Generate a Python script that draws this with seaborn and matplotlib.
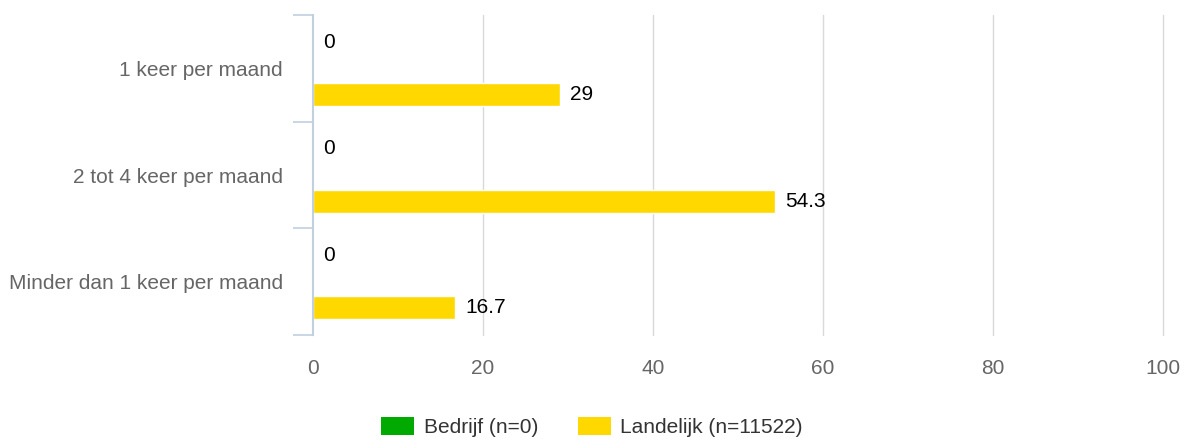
import matplotlib
matplotlib.use("Agg")
import matplotlib.pyplot as plt
import seaborn as sns
import pandas as pd
from matplotlib.patches import Patch

categories = ["1 keer per maand", "2 tot 4 keer per maand", "Minder dan 1 keer per maand"]
series_names = ["Bedrijf (n=0)", "Landelijk (n=11522)"]
bedrijf = [0, 0, 0]
landelijk = [29, 54.3, 16.7]
x_ticks = [0, 20, 40, 60, 80, 100]
colors = ["#00aa00", "#ffd800"]

df = pd.DataFrame({
    "cat": categories * 2,
    "series": [series_names[0]] * 3 + [series_names[1]] * 3,
    "value": bedrijf + landelijk,
})

sns.set_theme(style="white")
plt.rcParams["font.family"] = ["Liberation Sans", "DejaVu Sans"]

fig = plt.figure(figsize=(11.84, 4.44), dpi=100)
ax = fig.add_axes([313 / 1184, 1 - 335 / 444, 850 / 1184, 320 / 444])

sns.barplot(data=df, y="cat", x="value", hue="series", order=categories,
            hue_order=series_names, palette=colors, orient="h",
            width=0.98, gap=0.56, ax=ax, legend=False, saturation=1)

ax.set_xlim(0, 100)
ax.set_ylim(2.5, -0.5)
ax.set_xticks(x_ticks)
ax.set_xticklabels([str(t) for t in x_ticks], color="#666666", fontsize=15)
ax.set_xlabel("")
ax.set_ylabel("")
ax.tick_params(axis="x", length=0, pad=17)
ax.tick_params(axis="y", which="major", left=False, length=0, pad=21.6,
               labelsize=15, labelcolor="#666666")
ax.set_yticks([-0.5, 0.5, 1.5, 2.5], minor=True)
ax.tick_params(axis="y", which="minor", left=True, length=14.4, width=1.2,
               color="#c0d0e0")

for t in x_ticks[1:]:
    ax.axvline(t, color="#d9d9d9", lw=1, zorder=0, clip_on=False)

for s in ["top", "right", "bottom"]:
    ax.spines[s].set_visible(False)
ax.spines["left"].set_color("#c0d0e0")
ax.spines["left"].set_linewidth(1.5)

for cont in ax.containers:
    labels = [("%g" % v) for v in cont.datavalues]
    ax.bar_label(cont, labels=labels, padding=7.5, fontsize=15, color="#000000")

handles = [Patch(facecolor=c, edgecolor="none", label=n) for c, n in zip(colors, series_names)]
fig.legend(handles=handles, loc="center", bbox_to_anchor=(0.5, 1 - 427 / 444),
           ncol=2, frameon=False, fontsize=15, handlelength=1.6, handleheight=1.0,
           columnspacing=1.9, handletextpad=0.45, labelcolor="#333333")

fig.savefig("out.png", dpi=100)
